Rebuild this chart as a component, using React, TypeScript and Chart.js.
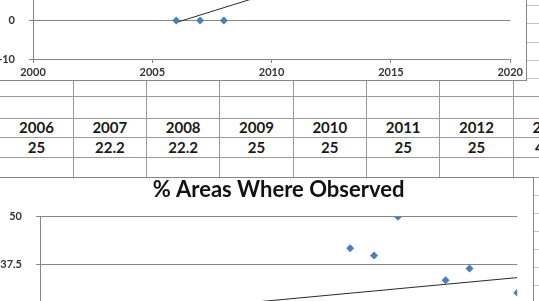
import React, { useEffect, useRef } from "react";
import { Chart, registerables } from "chart.js";
Chart.register(...registerables);

// ---- data ----
const tableYears = ["2006", "2007", "2008", "2009", "2010", "2011", "2012", "2013"];
const tableValues = ["25", "22.2", "22.2", "25", "25", "25", "25", "41.7"];

const topYears = [2006, 2007, 2008];
const topValues = [0, 0, 0];
const topTrendYears = [2006, 2014];
const topTrendValues = [-0.5, 15];

const areaYears = [2006, 2007, 2008, 2009, 2010, 2011, 2012, 2013, 2014, 2015, 2017, 2018, 2020];
const areaValues = [25, 22.2, 22.2, 25, 25, 25, 25, 41.7, 39.8, 50, 33.3, 36.4, 30];
const areaTrendYears = [2006, 2020];
const areaTrendValues = [25.8, 34.0];

const xMin = 2000, xMax = 2020, xStep = 5;
const topYMin = -10, topYMax = 40, topYStep = 10;
const areaYMin = 0, areaYMax = 50, areaYStep = 12.5;
const areaTitle = "% Areas Where Observed";

// ---- styles ----
const FONT = "Lato, 'Open Sans', sans-serif";
const AXIS = "#868686";
const POINT = "#4a7dba";
const TREND = "#2a2a2a";
const TICK_COLOR = "#333333";

function pts(xs: number[], ys: number[]) {
  return xs.map((x, i) => ({ x, y: ys[i] }));
}

function makeScales(yMin: number, yMax: number, yStep: number, yWidth: number) {
  return {
    x: {
      type: "linear" as const,
      min: xMin,
      max: xMax,
      ticks: {
        stepSize: xStep,
        callback: (v: any) => String(v),
        font: { family: FONT, size: 11, weight: "bold" as const },
        color: TICK_COLOR,
        padding: 3,
        maxRotation: 0,
      },
      grid: { drawOnChartArea: false, drawTicks: true, tickLength: 4, color: AXIS },
      border: { color: AXIS, width: 1 },
      afterFit: (s: any) => { s.height = 21; },
    },
    y: {
      type: "linear" as const,
      min: yMin,
      max: yMax,
      ticks: {
        stepSize: yStep,
        font: { family: FONT, size: 11, weight: "bold" as const },
        color: TICK_COLOR,
        padding: 14,
      },
      grid: { color: AXIS, drawTicks: true, tickLength: 4, lineWidth: 1 },
      border: { color: AXIS, width: 1 },
      afterFit: (s: any) => { s.width = yWidth; },
    },
  };
}

function datasets(xs: number[], ys: number[], tx: number[], ty: number[]) {
  return [
    {
      data: pts(xs, ys),
      pointStyle: "rectRot" as const,
      pointRadius: 4,
      backgroundColor: POINT,
      borderColor: POINT,
      borderWidth: 0,
      showLine: false,
    },
    {
      data: pts(tx, ty),
      showLine: true,
      pointRadius: 0,
      borderColor: TREND,
      borderWidth: 1,
      fill: false,
    },
  ];
}

// shifts the title block horizontally (the title sits off-centre in the source)
const titleShift = {
  id: "titleShift",
  afterLayout(chart: any, _args: any, opts: any) {
    const t = chart.titleBlock;
    if (t && opts && opts.dx) {
      t.left += opts.dx;
      t.right += opts.dx;
    }
  },
};

function TopChart() {
  const ref = useRef<HTMLCanvasElement>(null);
  useEffect(() => {
    const chart = new Chart(ref.current!, {
      type: "scatter",
      data: { datasets: datasets(topYears, topValues, topTrendYears, topTrendValues) as any },
      options: {
        responsive: false,
        animation: false,
        layout: { padding: { top: 37, right: 13, bottom: 0, left: 0 } },
        plugins: { legend: { display: false }, tooltip: { enabled: false }, title: { display: false } },
        scales: makeScales(topYMin, topYMax, topYStep, 53) as any,
      },
    });
    return () => chart.destroy();
  }, []);
  return (
    <div style={{ position: "absolute", left: -21, top: -171, border: `1px solid ${AXIS}`, background: "#fff" }}>
      <canvas ref={ref} width={546} height={250} style={{ display: "block" }} />
    </div>
  );
}

function AreaChart() {
  const ref = useRef<HTMLCanvasElement>(null);
  useEffect(() => {
    const chart = new Chart(ref.current!, {
      type: "scatter",
      data: { datasets: datasets(areaYears, areaValues, areaTrendYears, areaTrendValues) as any },
      plugins: [titleShift],
      options: {
        responsive: false,
        animation: false,
        layout: { padding: { top: 0, right: 14, bottom: 0, left: 0 } },
        plugins: {
          legend: { display: false },
          tooltip: { enabled: false },
          title: {
            display: true,
            text: areaTitle,
            color: "#111",
            font: { family: FONT, size: 22, weight: "bold" as const, lineHeight: 1.1 },
            padding: { top: 0, bottom: 14.5 },
          },
          titleShift: { dx: 29 },
        } as any,
        scales: makeScales(areaYMin, areaYMax, areaYStep, 60) as any,
      },
    });
    return () => chart.destroy();
  }, []);
  return (
    <div style={{ position: "absolute", left: -21, top: 177, border: `1px solid ${AXIS}`, background: "#fff" }}>
      <canvas ref={ref} width={553} height={250} style={{ display: "block" }} />
    </div>
  );
}

const colW = 73.33;
const tableTop = 81;
const tableBottom = 177;
const tableRowLines = [96, 118, 137, 157, 177];
const sheetRowLines = [5, 23, 42, 60, 78, 195, 213, 231, 249, 267, 285];

export default function App() {
  const hLine = (y: number, color: string, key: string) => (
    <div key={key} style={{ position: "absolute", left: 0, top: y, width: 539, height: 1, background: color }} />
  );
  const vLines = [];
  for (let k = 0; k < 7; k++) {
    const x = Math.round(72.7 + colW * k);
    vLines.push(
      <div key={"v" + k} style={{ position: "absolute", left: x, top: tableTop, width: 1, height: tableBottom - tableTop, background: "#9a9a9a" }} />
    );
  }
  const cellText = (txt: string, cx: number, cy: number, key: string) => (
    <div
      key={key}
      style={{
        position: "absolute",
        left: cx - 36,
        top: cy - 10,
        width: 72,
        height: 20,
        lineHeight: "20px",
        textAlign: "center",
        fontFamily: FONT,
        fontWeight: 700,
        fontSize: 15,
        color: "#1a1a1a",
      }}
    >
      {txt}
    </div>
  );
  return (
    <div style={{ position: "fixed", left: 0, top: 0, width: 539, height: 301, overflow: "hidden", background: "#fff" }}>
      {sheetRowLines.map((y, i) => hLine(y, "#c4c4c4", "s" + i))}
      {tableRowLines.map((y, i) => hLine(y, "#9a9a9a", "t" + i))}
      {vLines}
      {tableYears.map((t, i) => cellText(t, 36.5 + colW * i, 127, "y" + i))}
      {tableValues.map((t, i) => cellText(t, 36.5 + colW * i, 147, "w" + i))}
      <TopChart />
      <AreaChart />
    </div>
  );
}
